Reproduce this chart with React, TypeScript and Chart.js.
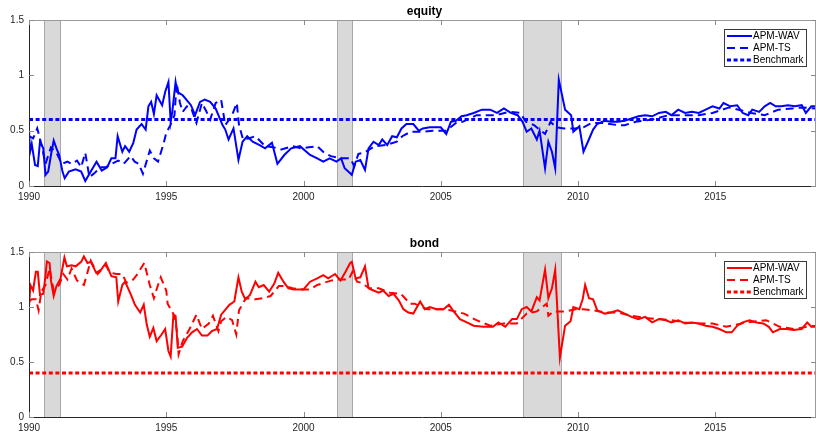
import React, { useEffect, useRef } from "react";
import { Chart, registerables } from "chart.js";
Chart.register(...registerables);

const FONT = '"Liberation Sans", Arial, Helvetica, sans-serif';

const xTicks = [1990, 1995, 2000, 2005, 2010, 2015];
const yTicks = [0, 0.5, 1, 1.5];
const xMin = 1990;
const xMax = 2018.67;
const yMin = 0;
const yMax = 1.5;

const recessionStart = [1990.54, 2001.23, 2007.98];
const recessionEnd = [1991.15, 2001.82, 2009.41];

const seriesLabels = ["APM-WAV", "APM-TS", "Benchmark"];
const equityBenchmark = 0.6;
const bondBenchmark = 0.4;

// ---------- equity ----------
const eqWavDates = [
  1990.0, 1990.04, 1990.1, 1990.22, 1990.32, 1990.4, 1990.52, 1990.6, 1990.7, 1990.8,
  1990.9, 1991.0, 1991.1, 1991.22, 1991.3, 1991.45, 1991.7, 1991.9, 1992.05, 1992.25,
  1992.46, 1992.65, 1992.85, 1993.0, 1993.15, 1993.23, 1993.4, 1993.5, 1993.65, 1993.8,
  1993.92, 1994.1, 1994.25, 1994.35, 1994.45, 1994.55, 1994.65, 1994.85, 1994.96, 1995.08,
  1995.16, 1995.22, 1995.34, 1995.4, 1995.6, 1995.8, 1995.9, 1996.05, 1996.23, 1996.4,
  1996.6, 1996.8, 1996.9, 1997.05, 1997.15, 1997.27, 1997.45, 1997.63, 1997.78, 1997.95,
  1998.15, 1998.4, 1998.6, 1998.85, 1999.05, 1999.3, 1999.55, 1999.87, 2000.24, 2000.5,
  2000.72, 2000.95, 2001.2, 2001.37, 2001.5, 2001.7, 2001.76, 2001.9, 2002.07, 2002.24,
  2002.37, 2002.55, 2002.74, 2002.87, 2003.05, 2003.23, 2003.4, 2003.57, 2003.75, 2004.0,
  2004.2, 2004.35, 2004.6, 2004.85, 2005.0, 2005.2, 2005.37, 2005.55, 2005.76, 2005.94,
  2006.2, 2006.5, 2006.8, 2007.05, 2007.3, 2007.55, 2007.8, 2007.98, 2008.13, 2008.3,
  2008.5, 2008.6, 2008.8, 2008.92, 2009.05, 2009.17, 2009.3, 2009.53, 2009.75, 2009.83,
  2010.05, 2010.2, 2010.36, 2010.55, 2010.7, 2010.97, 2011.2, 2011.45, 2011.7, 2011.95,
  2012.2, 2012.45, 2012.7, 2012.95, 2013.2, 2013.4, 2013.65, 2013.9, 2014.15, 2014.4,
  2014.65, 2014.9, 2015.15, 2015.3, 2015.55, 2015.8, 2016.0, 2016.2, 2016.35, 2016.6,
  2016.8, 2017.0, 2017.2, 2017.4, 2017.65, 2017.9, 2018.15, 2018.3, 2018.5, 2018.67,
];
const eqWavValues = [
  0.5, 0.31, 0.38, 0.19, 0.18, 0.4, 0.34, 0.1, 0.13, 0.28,
  0.41, 0.34, 0.28, 0.13, 0.07, 0.13, 0.15, 0.13, 0.045, 0.13,
  0.22, 0.14, 0.17, 0.25, 0.25, 0.45, 0.31, 0.36, 0.31, 0.39,
  0.51, 0.56, 0.51, 0.72, 0.76, 0.65, 0.82, 0.73, 0.85, 0.94,
  0.58, 0.67, 0.94, 0.85, 0.82, 0.76, 0.73, 0.64, 0.76, 0.78,
  0.76, 0.7, 0.64, 0.55, 0.51, 0.42, 0.52, 0.235, 0.4, 0.45,
  0.4, 0.37, 0.34, 0.39, 0.2, 0.28, 0.34, 0.36, 0.28, 0.25,
  0.22, 0.25, 0.22, 0.25, 0.16, 0.115, 0.1, 0.22, 0.235, 0.145,
  0.34, 0.4, 0.37, 0.42, 0.37, 0.45, 0.44, 0.52, 0.56, 0.56,
  0.5, 0.52, 0.53, 0.53, 0.53, 0.47, 0.58, 0.59, 0.63, 0.64,
  0.66, 0.69, 0.69, 0.66, 0.7, 0.66, 0.64, 0.58, 0.49, 0.52,
  0.42, 0.5, 0.16, 0.4, 0.31, 0.16, 0.96, 0.69, 0.64, 0.49,
  0.54, 0.31, 0.4, 0.51, 0.56, 0.59, 0.58, 0.58, 0.59, 0.61,
  0.63, 0.64, 0.63, 0.66, 0.67, 0.64, 0.69, 0.66, 0.67, 0.66,
  0.69, 0.72, 0.7, 0.75, 0.72, 0.73, 0.66, 0.64, 0.69, 0.67,
  0.72, 0.75, 0.72, 0.72, 0.73, 0.72, 0.73, 0.66, 0.72, 0.72,
];

const eqTsDates = [
  1990.0, 1990.15, 1990.3, 1990.45, 1990.6, 1990.8, 1991.0, 1991.2, 1991.4, 1991.55,
  1991.75, 1991.9, 1992.05, 1992.2, 1992.4, 1992.6, 1992.8, 1993.0, 1993.25, 1993.45,
  1993.7, 1993.85, 1994.0, 1994.15, 1994.4, 1994.55, 1994.7, 1994.9, 1995.0, 1995.15,
  1995.3, 1995.38, 1995.5, 1995.6, 1995.75, 1995.9, 1996.1, 1996.3, 1996.45, 1996.6,
  1996.8, 1997.0, 1997.15, 1997.4, 1997.57, 1997.65, 1997.8, 1998.0, 1998.25, 1998.6,
  1998.9, 1999.2, 1999.6, 1999.9, 2000.2, 2000.5, 2000.75, 2001.0, 2001.35, 2001.7,
  2001.85, 2002.0, 2002.2, 2002.6, 2003.0, 2003.4, 2003.6, 2003.9, 2004.3, 2004.7,
  2005.2, 2005.6, 2005.8, 2006.3, 2007.0, 2007.5, 2007.9, 2008.1, 2008.4, 2008.8,
  2009.0, 2009.2, 2009.5, 2009.9, 2010.2, 2010.5, 2010.9, 2011.45, 2011.7, 2012.1,
  2012.7, 2013.3, 2013.9, 2014.4, 2014.9, 2015.5, 2016.0, 2016.3, 2016.8, 2017.3,
  2017.8, 2018.2, 2018.67,
];
const eqTsValues = [
  0.45, 0.43, 0.52, 0.38, 0.2, 0.35, 0.3, 0.2, 0.22, 0.2,
  0.23, 0.17, 0.3, 0.08, 0.12, 0.17, 0.17, 0.2, 0.23, 0.2,
  0.27, 0.22, 0.2, 0.11, 0.32, 0.25, 0.22, 0.38, 0.48, 0.55,
  0.64, 0.93, 0.75, 0.67, 0.72, 0.71, 0.57, 0.75, 0.68, 0.6,
  0.75, 0.78, 0.55, 0.64, 0.75, 0.55, 0.42, 0.43, 0.45, 0.36,
  0.35, 0.33, 0.36, 0.34, 0.35, 0.36, 0.3, 0.27, 0.25, 0.25,
  0.18, 0.29, 0.3, 0.36, 0.37, 0.4, 0.45, 0.49, 0.49, 0.5,
  0.5, 0.58, 0.58, 0.64, 0.64, 0.67, 0.66, 0.58, 0.55, 0.47,
  0.58, 0.53, 0.52, 0.52, 0.53, 0.57, 0.57, 0.55, 0.55, 0.58,
  0.6, 0.64, 0.64, 0.64, 0.66, 0.71, 0.68, 0.66, 0.64, 0.69,
  0.7, 0.71, 0.7,
];

// ---------- bond ----------
const bdWavDates = [
  1990.0, 1990.05, 1990.15, 1990.25, 1990.32, 1990.4, 1990.52, 1990.6, 1990.65, 1990.75,
  1990.8, 1990.9, 1991.0, 1991.15, 1991.29, 1991.38, 1991.55, 1991.7, 1991.9, 1992.0,
  1992.13, 1992.25, 1992.45, 1992.63, 1992.8, 1993.0, 1993.18, 1993.25, 1993.4, 1993.5,
  1993.7, 1993.86, 1994.05, 1994.18, 1994.29, 1994.4, 1994.53, 1994.65, 1994.83, 1994.96,
  1995.08, 1995.16, 1995.26, 1995.34, 1995.42, 1995.58, 1995.76, 1995.94, 1996.12, 1996.3,
  1996.5, 1996.66, 1996.85, 1997.0, 1997.2, 1997.3, 1997.48, 1997.63, 1997.75, 1997.88,
  1998.05, 1998.25, 1998.37, 1998.55, 1998.75, 1998.93, 1999.08, 1999.27, 1999.45, 1999.65,
  2000.0, 2000.24, 2000.5, 2000.72, 2000.9, 2001.15, 2001.35, 2001.53, 2001.7, 2001.76,
  2001.9, 2002.07, 2002.24, 2002.37, 2002.55, 2002.74, 2002.9, 2003.1, 2003.28, 2003.47,
  2003.64, 2003.82, 2004.0, 2004.25, 2004.42, 2004.6, 2004.85, 2005.1, 2005.3, 2005.5,
  2005.7, 2005.95, 2006.2, 2006.55, 2006.9, 2007.1, 2007.35, 2007.6, 2007.77, 2007.95,
  2008.13, 2008.3, 2008.5, 2008.6, 2008.8, 2008.92, 2009.05, 2009.17, 2009.34, 2009.53,
  2009.73, 2009.83, 2010.05, 2010.17, 2010.26, 2010.4, 2010.55, 2010.7, 2010.97, 2011.2,
  2011.45, 2011.7, 2011.95, 2012.2, 2012.45, 2012.7, 2012.95, 2013.2, 2013.4, 2013.65,
  2013.9, 2014.15, 2014.4, 2014.65, 2014.9, 2015.15, 2015.4, 2015.6, 2015.8, 2016.0,
  2016.25, 2016.5, 2016.75, 2016.95, 2017.1, 2017.35, 2017.6, 2017.85, 2018.15, 2018.35,
  2018.5, 2018.67,
];
const bdWavValues = [
  1.0, 1.2, 1.15, 1.32, 1.32, 1.11, 1.12, 1.28, 1.415, 1.4,
  1.24, 1.1, 1.19, 1.26, 1.45, 1.37, 1.38, 1.37, 1.41, 1.46,
  1.4, 1.41, 1.31, 1.34, 1.4, 1.28, 1.27, 1.05, 1.2, 1.23,
  1.12, 1.02, 0.95, 1.02, 0.84, 0.73, 0.81, 0.69, 0.75, 0.8,
  0.6, 0.55, 0.93, 0.92, 0.63, 0.64, 0.72, 0.77, 0.8, 0.74,
  0.74, 0.78, 0.8, 0.93, 0.99, 1.02, 1.05, 1.27, 1.14, 1.07,
  1.11, 1.23, 1.18, 1.2, 1.14, 1.21, 1.31, 1.23, 1.17, 1.16,
  1.16, 1.23, 1.26, 1.29, 1.26, 1.3, 1.24, 1.32, 1.4, 1.41,
  1.26, 1.27, 1.37, 1.17, 1.15, 1.13, 1.15, 1.1, 1.12, 1.06,
  0.98, 0.95, 0.94, 1.05, 0.98, 1.0, 0.98, 0.98, 1.02, 0.95,
  0.89, 0.86, 0.83, 0.82, 0.82, 0.86, 0.82, 0.89, 0.89, 0.98,
  1.0, 0.96, 1.09, 1.06, 1.34, 1.08, 1.17, 1.34, 0.54, 0.83,
  0.87, 1.0, 0.98, 1.07, 1.2, 1.08, 1.07, 0.97, 0.94, 0.95,
  0.97, 0.94, 0.91, 0.89, 0.91, 0.86, 0.89, 0.88, 0.86, 0.88,
  0.85, 0.86, 0.85, 0.83, 0.82, 0.8, 0.77, 0.77, 0.83, 0.86,
  0.88, 0.86, 0.85, 0.82, 0.77, 0.8, 0.8, 0.79, 0.8, 0.86,
  0.82, 0.82,
];

const bdTsDates = [
  1990.0, 1990.1, 1990.25, 1990.35, 1990.45, 1990.6, 1990.75, 1990.9, 1991.1, 1991.25,
  1991.4, 1991.55, 1991.75, 1992.0, 1992.25, 1992.5, 1992.8, 1992.95, 1993.2, 1993.4,
  1993.55, 1993.8, 1993.95, 1994.2, 1994.4, 1994.55, 1994.7, 1994.8, 1995.0, 1995.05,
  1995.3, 1995.4, 1995.45, 1995.6, 1995.85, 1996.1, 1996.3, 1996.55, 1996.7, 1996.9,
  1997.0, 1997.2, 1997.4, 1997.55, 1997.65, 1997.9, 1998.25, 1998.5, 1998.8, 1999.1,
  1999.35, 1999.6, 2000.0, 2000.24, 2000.5, 2001.0, 2001.2, 2001.65, 2001.78, 2001.95,
  2002.1, 2002.4, 2002.74, 2003.15, 2003.55, 2003.88, 2004.05, 2004.5, 2005.1, 2005.35,
  2005.85, 2006.3, 2006.8, 2007.3, 2007.77, 2008.13, 2008.5, 2008.86, 2008.92, 2009.1,
  2009.4, 2009.55, 2009.9, 2010.2, 2010.55, 2011.0, 2011.45, 2011.95, 2012.45, 2012.95,
  2013.4, 2013.9, 2014.4, 2014.9, 2015.4, 2016.15, 2016.85, 2017.35, 2017.85, 2018.35,
  2018.67,
];
const bdTsValues = [
  1.05, 1.07, 1.07, 0.97, 1.14, 1.2, 1.35, 1.15, 1.2, 1.3,
  1.25, 1.35, 1.24, 1.2, 1.42, 1.3, 1.38, 1.31, 1.3, 1.3,
  1.22, 1.25, 1.3, 1.4, 1.2, 1.08, 1.2, 1.27, 1.15, 1.03,
  0.92, 0.76, 0.57, 0.69, 0.8, 0.93, 0.8, 0.85, 0.92, 0.78,
  0.87, 0.91, 0.88, 0.75, 0.97, 1.08, 1.07, 1.08, 1.1, 1.19,
  1.19, 1.17, 1.16, 1.16, 1.2, 1.24, 1.25, 1.25, 1.32, 1.23,
  1.22, 1.17, 1.17, 1.13, 1.12, 1.03, 1.03, 0.98, 0.98, 0.97,
  0.94, 0.88, 0.83, 0.85, 0.85, 0.94, 0.96, 1.03, 0.92, 0.96,
  0.96, 0.96, 0.98, 0.98, 0.97, 0.95, 0.95, 0.92, 0.9, 0.89,
  0.88, 0.86, 0.85, 0.85, 0.82, 0.86, 0.88, 0.82, 0.8, 0.82,
  0.83,
];

const toPoints = (xs: number[], ys: number[]) => xs.map((x, i) => ({ x, y: ys[i] }));

const decorPlugin = {
  id: "decor",
  beforeDatasetsDraw(chart: any) {
    const { ctx, chartArea: a, scales } = chart;
    const x = scales.x;
    ctx.save();
    ctx.beginPath();
    ctx.rect(a.left, a.top, a.right - a.left, a.bottom - a.top);
    ctx.clip();
    for (let i = 0; i < recessionStart.length; i++) {
      const x0 = Math.round(x.getPixelForValue(recessionStart[i]));
      const x1 = Math.round(x.getPixelForValue(recessionEnd[i]));
      ctx.fillStyle = "#d9d9d9";
      ctx.fillRect(x0, a.top, x1 - x0, a.bottom - a.top);
      ctx.strokeStyle = "#a8a8a8";
      ctx.lineWidth = 1;
      ctx.beginPath();
      ctx.moveTo(x0 + 0.5, a.top);
      ctx.lineTo(x0 + 0.5, a.bottom);
      ctx.moveTo(x1 - 0.5, a.top);
      ctx.lineTo(x1 - 0.5, a.bottom);
      ctx.stroke();
    }
    ctx.restore();
  },
  afterDraw(chart: any, _args: any, opts: any) {
    const { ctx, chartArea: a, scales } = chart;
    const x = scales.x;
    const y = scales.y;
    ctx.save();
    // box
    ctx.lineWidth = 1;
    ctx.strokeStyle = "#9a9a9a";
    ctx.beginPath();
    ctx.moveTo(a.left, a.top + 0.5);
    ctx.lineTo(a.right, a.top + 0.5);
    ctx.moveTo(a.right - 0.5, a.top);
    ctx.lineTo(a.right - 0.5, a.bottom);
    ctx.stroke();
    ctx.strokeStyle = "#262626";
    ctx.beginPath();
    ctx.moveTo(a.left + 0.5, a.top);
    ctx.lineTo(a.left + 0.5, a.bottom + 0.5);
    ctx.moveTo(a.left, a.bottom + 0.5);
    ctx.lineTo(a.right, a.bottom + 0.5);
    ctx.stroke();
    // inner ticks
    ctx.strokeStyle = "#8a8a8a";
    ctx.beginPath();
    xTicks.forEach((t) => {
      const px = Math.round(x.getPixelForValue(t)) + 0.5;
      ctx.moveTo(px, a.top);
      ctx.lineTo(px, a.top + 5);
      ctx.moveTo(px, a.bottom);
      ctx.lineTo(px, a.bottom - 5);
    });
    yTicks.forEach((t) => {
      const py = Math.round(y.getPixelForValue(t)) + 0.5;
      ctx.moveTo(a.left, py);
      ctx.lineTo(a.left + 5, py);
      ctx.moveTo(a.right, py);
      ctx.lineTo(a.right - 5, py);
    });
    ctx.stroke();
    // title
    ctx.fillStyle = "#000";
    ctx.font = `bold 12px ${FONT}`;
    ctx.textAlign = "center";
    ctx.textBaseline = "middle";
    ctx.fillText(opts.title, (a.left + a.right) / 2 + 2, a.top - 8);
    // legend
    const bw = 82;
    const bh = 37;
    const bx = Math.round(a.right - 92);
    const by = Math.round(a.top + 9);
    ctx.fillStyle = "#fff";
    ctx.fillRect(bx, by, bw, bh);
    ctx.strokeStyle = "#3a3a3a";
    ctx.lineWidth = 1;
    ctx.strokeRect(bx + 0.5, by + 0.5, bw, bh);
    ctx.textAlign = "left";
    ctx.font = `10px ${FONT}`;
    chart.data.datasets.forEach((ds: any, i: number) => {
      const yy = by + 7 + i * 12;
      ctx.beginPath();
      ctx.setLineDash(ds.borderDash || []);
      ctx.lineWidth = ds.borderWidth;
      ctx.strokeStyle = ds.borderColor;
      ctx.moveTo(bx + 3, yy);
      ctx.lineTo(bx + 28, yy);
      ctx.stroke();
      ctx.setLineDash([]);
      ctx.fillStyle = "#000";
      ctx.fillText(ds.label, bx + 29, yy + 0.5);
    });
    ctx.restore();
  },
};

type PanelProps = {
  top: number;
  title: string;
  color: string;
  wav: { x: number; y: number }[];
  ts: { x: number; y: number }[];
  bench: number;
  padTop: number;
  axisH: number;
};

function Panel({ top, title, color, wav, ts, bench, padTop, axisH }: PanelProps) {
  const ref = useRef<HTMLCanvasElement>(null);
  useEffect(() => {
    const chart = new Chart(ref.current as HTMLCanvasElement, {
      type: "line",
      data: {
        datasets: [
          {
            label: seriesLabels[0],
            data: wav,
            borderColor: color,
            borderWidth: 2,
            pointRadius: 0,
            tension: 0,
            fill: false,
          },
          {
            label: seriesLabels[1],
            data: ts,
            borderColor: color,
            borderWidth: 2,
            borderDash: [8, 5],
            pointRadius: 0,
            tension: 0,
            fill: false,
          },
          {
            label: seriesLabels[2],
            data: [
              { x: xMin, y: bench },
              { x: xMax, y: bench },
            ],
            borderColor: color,
            borderWidth: 3,
            borderDash: [4, 2.6],
            pointRadius: 0,
            tension: 0,
            fill: false,
          },
        ],
      } as any,
      options: {
        responsive: false,
        maintainAspectRatio: false,
        animation: false,
        parsing: true,
        layout: { padding: { top: padTop, left: 0, right: 0, bottom: 0 } },
        plugins: {
          legend: { display: false },
          tooltip: { enabled: false },
          title: { display: false },
          decor: { title },
        } as any,
        scales: {
          x: {
            type: "linear",
            min: xMin,
            max: xMax,
            grid: { display: false, drawTicks: false },
            border: { display: false },
            ticks: {
              padding: 5,
              color: "#262626",
              font: { family: FONT, size: 10 },
              maxRotation: 0,
              autoSkip: false,
              callback: (v: any) => String(v),
            },
            afterBuildTicks: (s: any) => {
              s.ticks = xTicks.map((v) => ({ value: v }));
            },
            afterFit: (s: any) => {
              s.height = axisH;
            },
          },
          y: {
            type: "linear",
            min: yMin,
            max: yMax,
            grid: { display: false, drawTicks: false },
            border: { display: false },
            ticks: {
              padding: 5,
              color: "#262626",
              font: { family: FONT, size: 10 },
              callback: (v: any) => String(v),
            },
            afterBuildTicks: (s: any) => {
              s.ticks = yTicks.map((v) => ({ value: v }));
            },
            afterFit: (s: any) => {
              s.width = 29;
            },
          },
        },
      } as any,
      plugins: [decorPlugin as any],
    });
    return () => chart.destroy();
  }, []);
  return (
    <canvas
      ref={ref}
      width={816}
      height={218}
      style={{ position: "absolute", left: 0, top, width: 816, height: 218 }}
    />
  );
}

export default function App() {
  return (
    <div
      style={{
        position: "fixed",
        left: 0,
        top: 0,
        width: 816,
        height: 436,
        background: "#fff",
        overflow: "hidden",
      }}
    >
      <Panel
        top={0}
        title="equity"
        color="#0000ff"
        wav={toPoints(eqWavDates, eqWavValues)}
        ts={toPoints(eqTsDates, eqTsValues)}
        bench={equityBenchmark}
        padTop={20}
        axisH={32}
      />
      <Panel
        top={218}
        title="bond"
        color="#ff0000"
        wav={toPoints(bdWavDates, bdWavValues)}
        ts={toPoints(bdTsDates, bdTsValues)}
        bench={bondBenchmark}
        padTop={34}
        axisH={19}
      />
    </div>
  );
}
